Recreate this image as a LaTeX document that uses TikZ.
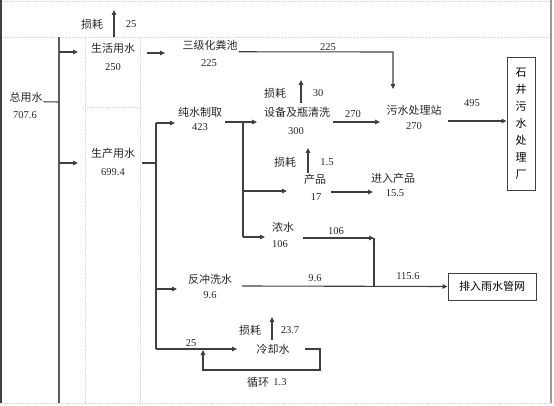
\documentclass[tikz,border=0pt]{standalone}
\usepackage{fontspec}
\setmainfont{Liberation Serif}
\newfontfamily\cjk{Noto Sans CJK SC}
\usetikzlibrary{arrows.meta}
\definecolor{flowgray}{HTML}{3F3F3F}
\definecolor{framegray}{HTML}{9A9A9A}
\definecolor{dotgray}{HTML}{D4D4D4}

\begin{document}
\begin{tikzpicture}[x=1pt, y=-1pt,
  flow/.style={flowgray, line width=1.1pt, -{Triangle[length=5pt,width=4.5pt]}},
  pipe/.style={flowgray, line width=1.1pt},
  cell/.style={dotgray, line width=0.8pt, densely dotted},
  lbl/.style={font=\cjk\fontsize{11}{13}\selectfont, text=black!85, inner sep=1pt},
  num/.style={font=\fontsize{10.5}{12}\selectfont, text=black!85, inner sep=1pt},
  sinkbox/.style={draw=flowgray, line width=0.9pt, inner sep=0pt, font=\cjk\fontsize{11}{17}\selectfont, align=center}]

  \useasboundingbox (0,0) rectangle (554,406);

  % Table frame behind the chart
  \draw[cell] (0,1) -- (551,1);
  \draw[cell] (0,37) -- (551,37);
  \draw[cell] (0,403) -- (551,403);
  \foreach \cx in {85, 140} {
    \draw[cell] (\cx,37) -- (\cx,403);
  }
  \draw[cell] (85,107) -- (140,107);
  \draw[black!75, line width=1.4pt] (1,0) -- (1,403);
  \draw[framegray, line width=1.4pt] (551,0) -- (551,403);

  % Water users and stations
  \node[lbl] (total) at (26,97) {总用水};
  \node[lbl] (life) at (113,48) {生活用水};
  \node[lbl] (prod) at (113,153) {生产用水};
  \node[lbl] (septic) at (210,45) {三级化粪池};
  \node[lbl] (pure) at (200,112) {纯水制取};
  \node[lbl] (wash) at (297,112) {设备及瓶清洗};
  \node[lbl] (wwtp) at (414,110) {污水处理站};
  \node[lbl] (product) at (315,179) {产品};
  \node[lbl] (toprod) at (393,178) {进入产品};
  \node[lbl] (conc) at (283,227) {浓水};
  \node[lbl] (backwash) at (210,279) {反冲洗水};
  \node[lbl] (cool) at (273,349) {冷却水};
  \node[lbl] (cycle) at (258,382) {循环};
  \node[sinkbox, minimum width=28pt, minimum height=133pt] (plant) at (521,123.5) {石\\井\\污\\水\\处\\理\\厂};
  \node[sinkbox, minimum width=88pt, minimum height=27pt, font=\cjk\fontsize{11}{13}\selectfont] (rain) at (492,286.5) {排入雨水管网};

  % Losses
  \foreach \lx/\ly [count=\i] in {92/24, 275/93, 285/162, 250/330} {
    \node[lbl] (loss\i) at (\lx,\ly) {损耗};
  }

  % Quantities
  \foreach \nx/\ny/\nv [count=\i] in {
    25/115/707.6, 113/67/250, 113/172/699.4, 209/63/225, 200/127/423,
    296/131/300, 414/126/270, 316/197/17, 395/193/15.5, 280/244/106,
    210/295/9.6, 131/24/25, 318/93/30, 327/162/1.5, 290/330/23.7,
    328/47/225, 353/114/270, 472/103/495, 336/231/106, 315/278/9.6,
    408/276/115.6, 191/343/25, 280/382/1.3
  } {
    \node[num] (val\i) at (\nx,\ny) {\nv};
  }

  % Junction points
  \coordinate (trunktop) at (59,37);
  \coordinate (trunkbot) at (59,403);
  \coordinate (prodsplit) at (156,163);
  \coordinate (puresplit) at (243,122);
  \coordinate (conccorner) at (374,238);
  \coordinate (rainjoin) at (374,286);

  % Main supply
  \draw[flowgray!85, line width=1.5pt] (trunktop) -- (trunkbot);
  \draw[pipe] (total.south east) ++(0,-1.5) -- (59,102);
  \draw[flow] (59,52) -- (78,52);
  \draw[flow] (59,163) -- (78,163);
  \draw[flow] (114,37) -- (114,10);

  % Domestic water
  \draw[flow] (147,53) -- (165,53);
  \draw[flow] (septic.south east) ++(0,0.5) -- (393,52) -- (393,89);
  \draw[flow] (448,121) -- (plant.west |- 448,121);

  % Production water
  \draw[pipe] (142,163) -- (prodsplit);
  \draw[pipe] (156,123) -- (156,349);
  \draw[flow] (156,123) -- (175,123);
  \draw[flow] (156,289) -- (177,289);
  \draw[flow] (156,349) -- (237,349);

  % Pure water branches
  \draw[flow] (225,122) -- (257,122);
  \draw[pipe] (puresplit) -- (243,237);
  \draw[flow] (243,191) -- (287,191);
  \draw[flow] (243,237) -- (265,237);
  \draw[flow] (301,103) -- (301,80);
  \draw[flow] (333,122) -- (380,122);
  \draw[flow] (308,173) -- (308,148);
  \draw[flow] (331,192) -- (373,192);

  % Concentrate and backwash to rain sewer
  \draw[flow] (303,238) -- (conccorner);
  \draw[pipe] (conccorner) -- (rainjoin);
  \draw[flow] (242,286) -- (rain.west);

  % Cooling water loop
  \draw[flow] (272,340) -- (272,317);
  \draw[flow] (305,349) -- (320,349) -- (320,370) -- (203,370) -- (203,350);

\end{tikzpicture}
\end{document}
